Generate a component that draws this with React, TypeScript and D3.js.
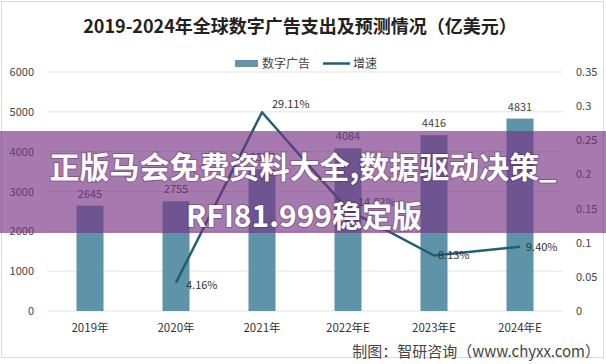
import React from "react";
import * as d3 from "d3";

const categories = ["2019年", "2020年", "2021年", "2022年E", "2023年E", "2024年E"];
const spend = [2645, 2755, 3557, 4084, 4416, 4831];
const growth: (number | null)[] = [null, 0.0416, 0.2911, 0.1482, 0.0813, 0.094];
const growthLabels = ["", "4.16%", "29.11%", "14.82%", "8.13%", "9.40%"];
const leftTicks = [0, 1000, 2000, 3000, 4000, 5000, 6000];
const rightTicks = [0, 0.05, 0.1, 0.15, 0.2, 0.25, 0.3, 0.35];

const W = 606, H = 364;
const FONT = "'Noto Sans CJK SC', 'Noto Sans', sans-serif";

export default function App() {
  const x = d3.scaleBand<string>().domain(categories).range([47, 563]).paddingInner(0.686).paddingOuter(0.343);
  const yL = d3.scaleLinear().domain([0, 6000]).range([311, 72]);
  const yR = d3.scaleLinear().domain([0, 0.35]).range([311, 72]);
  const cx = (c: string) => (x(c) as number) + x.bandwidth() / 2;
  const pts = categories.map((c, i) => ({ c, v: growth[i], l: growthLabels[i] })).filter(d => d.v !== null) as { c: string; v: number; l: string }[];
  const line = d3.line<{ c: string; v: number }>().x(d => cx(d.c)).y(d => yR(d.v));
  const labelOff: Record<string, [number, number, string]> = {
    "2020年": [10, 6, "start"],
    "2021年": [10, -4, "start"],
    "2022年E": [10, -4, "start"],
    "2023年E": [4, 4, "start"],
    "2024年E": [6, 4, "start"],
  };
  return (
    <svg width={W} height={H} style={{ position: "absolute", left: 0, top: 0, background: "#fff" }} fontFamily={FONT}>
      <rect x={1.5} y={1.5} width={W - 4} height={356} fill="#fff" stroke="#d9d9d9" />
      <text x={300} y={33} textAnchor="middle" fontSize={18} fontWeight="bold" fill="#222">2019-2024年全球数字广告支出及预测情况（亿美元）</text>
      {/* legend */}
      <rect x={235} y={60} width={23} height={7} fill="#6a93a6" />
      <text x={262} y={68} fontSize={12} fill="#444">数字广告</text>
      <line x1={323} x2={350} y1={63.5} y2={63.5} stroke="#1e5f72" strokeWidth={2.5} />
      <text x={353} y={68} fontSize={12} fill="#444">增速</text>
      {/* grid */}
      {leftTicks.map(t => (
        <line key={t} x1={47} x2={563} y1={yL(t)} y2={yL(t)} stroke="#e3e3e3" strokeWidth={1} />
      ))}
      {leftTicks.map(t => (
        <text key={"l" + t} x={34} y={yL(t) + 4} textAnchor="end" fontSize={11} fill="#444">{t}</text>
      ))}
      {rightTicks.map(t => (
        <text key={"r" + t} x={576} y={yR(t) + 4} fontSize={11} fill="#444">{t === 0 ? "0" : String(t)}</text>
      ))}
      {/* bars */}
      {categories.map((c, i) => (
        <g key={c}>
          <rect x={x(c)} y={yL(spend[i])} width={x.bandwidth()} height={311 - yL(spend[i])} fill="#5e93a8" />
          <text x={cx(c)} y={yL(spend[i]) - 8} textAnchor="middle" fontSize={11} fill="#444">{spend[i]}</text>
          <text x={cx(c)} y={332} textAnchor="middle" fontSize={11.5} fill="#333">{c}</text>
        </g>
      ))}
      {/* line */}
      <path d={line(pts) || ""} fill="none" stroke="#1e6175" strokeWidth={2.5} strokeLinejoin="round" />
      {pts.map(p => {
        const o = labelOff[p.c];
        return (
          <text key={p.c} x={cx(p.c) + o[0]} y={yR(p.v) + o[1]} textAnchor={o[2] as any} fontSize={11} fill="#333">{p.l}</text>
        );
      })}
      <text x={600} y={357} textAnchor="end" fontSize={15} fill="#444">制图：智研咨询（www.chyxx.com）</text>
      {/* watermark banner */}
      <rect x={0} y={131} width={W} height={102} fill="rgb(119,50,130)" fillOpacity={0.65} />
      <g fill="#fff" fontWeight="bold" fontSize={30} textAnchor="middle" style={{ paintOrder: "stroke" }} stroke="rgba(60,20,70,0.35)" strokeWidth={2}>
        <text x={303} y={178}>正版马会免费资料大全,数据驱动决策_</text>
        <text x={304} y={227}>RFI81.999稳定版</text>
      </g>
    </svg>
  );
}
